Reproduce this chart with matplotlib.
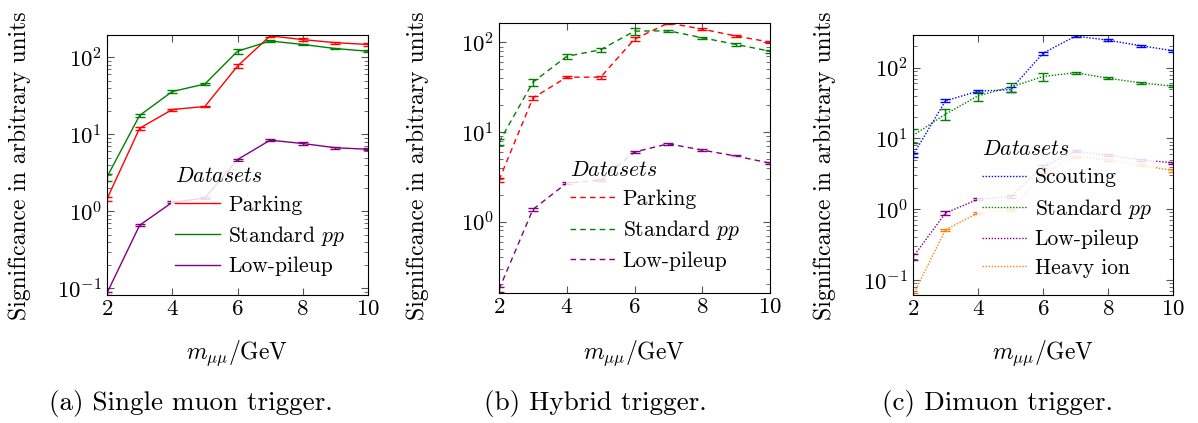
import numpy as np
import matplotlib
matplotlib.use("Agg")
import matplotlib.pyplot as plt
from matplotlib.lines import Line2D
from matplotlib.ticker import LogLocator, NullFormatter

plt.rcParams["font.family"] = "serif"
plt.rcParams["font.serif"] = ["cmr10", "DejaVu Serif"]
plt.rcParams["mathtext.fontset"] = "cm"
plt.rcParams["axes.formatter.use_mathtext"] = True

# 质量点 (GeV)
mass = [2, 3, 4, 5, 6, 7, 8, 9, 10]

# (a) 单 muon 触发
single_parking = [1.45, 12, 21, 23, 77, 190, 170, 155, 147]
single_parking_err = [0.08, 0.5, 0.6, 0.6, 4, 6, 6, 5, 5]
single_standard = [2.8, 17.6, 36, 45, 120, 163, 147, 130, 120]
single_standard_err = [0.3, 1.0, 1.5, 1.8, 8, 5, 4, 3, 3]
single_lowpu = [0.087, 0.66, 1.31, 1.49, 4.7, 8.4, 7.6, 6.7, 6.4]
single_lowpu_err = [0.004, 0.02, 0.04, 0.04, 0.15, 0.3, 0.25, 0.22, 0.22]

# (b) 混合触发
hybrid_parking = [2.9, 24, 41, 41, 109, 165, 141, 118, 101]
hybrid_parking_err = [0.15, 1.2, 1.2, 1.5, 6, 4, 4, 3, 3]
hybrid_standard = [7.7, 36, 70, 83, 134, 135, 113, 95, 80]
hybrid_standard_err = [0.6, 3, 4, 4, 12, 4, 3, 3, 3]
hybrid_lowpu = [0.175, 1.37, 2.7, 2.9, 6.0, 7.4, 6.3, 5.4, 4.5]
hybrid_lowpu_err = [0.01, 0.05, 0.08, 0.08, 0.2, 0.2, 0.2, 0.15, 0.15]

# (c) 双 muon 触发
dimuon_scouting = [5.8, 34, 46.5, 49, 160, 280, 245, 205, 174]
dimuon_scouting_err = [0.4, 1.5, 2.5, 4, 8, 8, 7, 6, 5]
dimuon_standard = [11, 22, 40, 53, 75, 85, 71, 61, 55]
dimuon_standard_err = [2.5, 4, 6, 8, 10, 3, 2.5, 2, 2]
dimuon_lowpu = [0.21, 0.88, 1.38, 1.5, 4.0, 6.6, 5.8, 5.0, 4.5]
dimuon_lowpu_err = [0.02, 0.05, 0.05, 0.06, 0.15, 0.2, 0.2, 0.15, 0.15]
dimuon_heavyion = [0.061, 0.51, 0.88, 0.98, 3.2, 5.5, 5.0, 4.2, 3.5]
dimuon_heavyion_err = [0.005, 0.02, 0.03, 0.03, 0.1, 0.2, 0.15, 0.15, 0.15]

RED = "#ff0000"
GREEN = "#008000"
PURPLE = "#800080"
BLUE = "#0000ff"
ORANGE = "#ff8000"

W, H = 1198, 423
fig = plt.figure(figsize=(W / 100, H / 100), dpi=100)


def px_rect(left, right, top, bottom):
    """像素坐标 -> figure 坐标 [x, y, w, h]"""
    return [left / W, 1 - bottom / H, (right - left) / W, (bottom - top) / H]


panels = [
    {
        "rect": px_rect(107, 368, 35, 295),
        "ylim": (0.082, 195),
        "ls": "-",
        "series": [
            ("Parking", single_parking, single_parking_err, RED),
            (r"Standard $pp$", single_standard, single_standard_err, GREEN),
            ("Low-pileup", single_lowpu, single_lowpu_err, PURPLE),
        ],
        "caption": "(a) Single muon trigger.",
        "caption_x": 191,
        "ylabel_x": 20,
        "leg": (0.245, 0.51),
    },
    {
        "rect": px_rect(499, 770, 23, 293),
        "ylim": (0.16, 165),
        "ls": (0, (4, 3)),
        "series": [
            ("Parking", hybrid_parking, hybrid_parking_err, RED),
            (r"Standard $pp$", hybrid_standard, hybrid_standard_err, GREEN),
            ("Low-pileup", hybrid_lowpu, hybrid_lowpu_err, PURPLE),
        ],
        "caption": "(b) Hybrid trigger.",
        "caption_x": 595,
        "ylabel_x": 418,
        "leg": (0.246, 0.505),
    },
    {
        "rect": px_rect(913, 1173, 35, 295),
        "ylim": (0.061, 290),
        "ls": (0, (1, 1.2)),
        "series": [
            ("Scouting", dimuon_scouting, dimuon_scouting_err, BLUE),
            (r"Standard $pp$", dimuon_standard, dimuon_standard_err, GREEN),
            ("Low-pileup", dimuon_lowpu, dimuon_lowpu_err, PURPLE),
            ("Heavy ion", dimuon_heavyion, dimuon_heavyion_err, ORANGE),
        ],
        "caption": "(c) Dimuon trigger.",
        "caption_x": 997,
        "ylabel_x": 825,
        "leg": (0.248, 0.615),
    },
]

for p in panels:
    ax = fig.add_axes(p["rect"])
    handles = []
    for label, vals, err, color in p["series"]:
        ax.errorbar(mass, vals, yerr=err, color=color, ls=p["ls"], lw=1.0,
                    elinewidth=1.0, capsize=3.5, capthick=1.0)
        handles.append(Line2D([], [], color=color, ls=p["ls"], lw=1.0, label=label))
    ax.set_yscale("log")
    ax.set_xlim(2, 10)
    ax.set_ylim(*p["ylim"])
    ax.set_xticks([2, 4, 6, 8, 10])
    ax.yaxis.set_major_locator(LogLocator(base=10, numticks=10))
    ax.yaxis.set_minor_locator(LogLocator(base=10, subs=np.arange(2, 10), numticks=20))
    ax.yaxis.set_minor_formatter(NullFormatter())
    ax.tick_params(which="both", direction="in", top=True, right=True,
                   color="#555555", labelsize=16.5)
    ax.tick_params(which="major", length=5)
    ax.tick_params(which="minor", length=3)
    for s in ax.spines.values():
        s.set_linewidth(0.8)
    leg = ax.legend(handles=handles, loc="upper left", bbox_to_anchor=p["leg"],
                    borderaxespad=0, fontsize=15.5,
                    title=r"$\mathit{Datasets}$", title_fontsize=15.5,
                    frameon=True, framealpha=0.85, edgecolor="none",
                    handlelength=2.1, handletextpad=0.35, labelspacing=0.42,
                    borderpad=0.2)
    leg._legend_box.align = "left"
    leg.get_frame().set_linewidth(0)
    # 坐标轴标签与子图标题按像素位置放置
    fig.text(p["ylabel_x"] / W, 1 - 166 / H, "Significance in arbitrary units",
             rotation=90, ha="center", va="center", fontsize=17)
    cx_axis = p["rect"][0] + p["rect"][2] / 2
    fig.text(cx_axis, 1 - 353 / H, r"$m_{\mu\mu}/\mathrm{GeV}$",
             ha="center", va="center", fontsize=17)
    fig.text(p["caption_x"] / W, 1 - 403 / H, p["caption"],
             ha="center", va="center", fontsize=19.5)

fig.savefig("out.png", dpi=100)
